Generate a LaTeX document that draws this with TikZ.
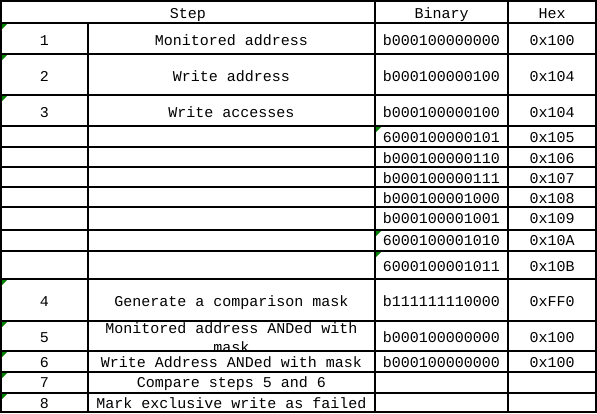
\documentclass[tikz,border=0pt]{standalone}
\usepackage{fontspec}
\setmonofont{Liberation Mono}
\usetikzlibrary{positioning}

\begin{document}
\begin{tikzpicture}[x=1pt,y=-1pt,
    cell/.style={font=\ttfamily\fontsize{15}{18}\selectfont,inner sep=0pt,
      text height=9.5pt,text depth=0pt},
    grid/.style={line width=1.2pt},
    flag/.style={fill=green!50!black}]
  \useasboundingbox (0,0) rectangle (597,413);
  % header
  \node[cell] (hstep) at (188,14) {Step};
  \node[cell] (hbin) at (441.5,14) {Binary};
  \node[cell] (hhex) at (552,14) {Hex};
  % numbered steps
  \foreach \n/\y/\txt/\bin/\hex in {1/41/Monitored address/b000100000000/0x100,
      2/77/Write address/b000100000100/0x104,
      3/113/Write accesses/b000100000100/0x104,
      4/302/Generate a comparison mask/b111111110000/0xFF0,
      6/363/Write Address ANDed with mask/b000100000000/0x100} {
    \node[cell] (num\n) at (44.5,\y) {\n};
    \node[cell] (txt\n) at (231.5,\y) {\txt};
    \node[cell] (bin\n) at (441.5,\y) {\bin};
    \node[cell] (hex\n) at (552,\y) {\hex};
  }
  \node[cell] (num5) at (44.5,338) {5};
  \begin{scope}
    \clip (88,321) rectangle (375,351);
    \node[cell] (txt5) at (231.5,329) {Monitored address ANDed with};
    \node[cell] (txt5b) at (231.5,348) {mask};
  \end{scope}
  \node[cell] (bin5) at (441.5,338) {b000100000000};
  \node[cell] (hex5) at (552,338) {0x100};
  \node[cell] (num7) at (44.5,383) {7};
  \node[cell] (txt7) at (231.5,383) {Compare steps 5 and 6};
  \node[cell] (num8) at (44.5,404) {8};
  \node[cell] (txt8) at (231.5,404) {Mark exclusive write as failed};
  % write accesses
  \foreach \i/\y/\bin/\hex in {a/138/6000100000101/0x105, b/159/b000100000110/0x106,
      c/179/b000100000111/0x107, d/199/b000100001000/0x108,
      e/219/b000100001001/0x109, f/241/6000100001010/0x10A,
      g/267/6000100001011/0x10B} {
    \node[cell] (bin\i) at (441.5,\y) {\bin};
    \node[cell] (hex\i) at (552,\y) {\hex};
  }
  % grid
  \foreach \y in {23,54,95,126,147,167,187,207,230,251,279,321,351,372,393}
    \draw[grid] (1,\y) -- (596,\y);
  \draw[grid] (88,23) -- (88,412);
  \draw[grid] (375,1) -- (375,412);
  \draw[grid] (508,1) -- (508,412);
  \draw[line width=2pt] (1,1) rectangle (596,412);
  % green corner marks
  \foreach \x/\y in {1/23,1/54,1/95,1/279,1/321,1/351,1/372,1/393,
      375/126,375/230,375/251}
    \fill[flag] (\x+1,\y+1) -- (\x+6,\y+1) -- (\x+1,\y+6) -- cycle;
\end{tikzpicture}
\end{document}
